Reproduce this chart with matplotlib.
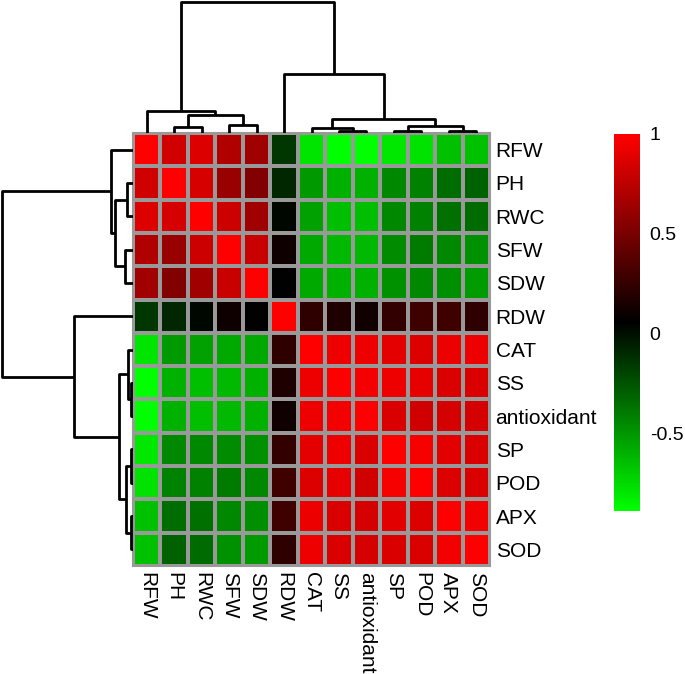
import numpy as np
import matplotlib
matplotlib.use("Agg")
import matplotlib.pyplot as plt
from matplotlib.colors import LinearSegmentedColormap

plt.rcParams['font.family'] = ['Liberation Sans', 'DejaVu Sans']

# variables in clustered order
labels = ["RFW", "PH", "RWC", "SFW", "SDW", "RDW", "CAT", "SS",
          "antioxidant", "SP", "POD", "APX", "SOD"]

# correlation matrix, same order for rows and columns
corr = [
    [1.00, 0.83, 0.87, 0.71, 0.65, -0.15, -0.79, -0.89, -0.89, -0.80, -0.78, -0.66, -0.66],
    [0.83, 1.00, 0.85, 0.62, 0.53, -0.09, -0.51, -0.60, -0.60, -0.45, -0.42, -0.35, -0.30],
    [0.87, 0.85, 1.00, 0.81, 0.65, 0.03, -0.54, -0.65, -0.65, -0.45, -0.42, -0.36, -0.34],
    [0.71, 0.62, 0.81, 1.00, 0.80, 0.11, -0.57, -0.63, -0.63, -0.46, -0.40, -0.45, -0.48],
    [0.65, 0.53, 0.65, 0.80, 1.00, 0.05, -0.57, -0.60, -0.60, -0.48, -0.45, -0.47, -0.52],
    [-0.15, -0.09, 0.03, 0.11, 0.05, 1.00, 0.23, 0.17, 0.12, 0.24, 0.29, 0.29, 0.23],
    [-0.79, -0.51, -0.54, -0.57, -0.57, 0.23, 1.00, 0.94, 0.94, 0.90, 0.87, 0.93, 0.94],
    [-0.89, -0.60, -0.65, -0.63, -0.60, 0.17, 0.94, 1.00, 0.96, 0.94, 0.91, 0.86, 0.86],
    [-0.89, -0.60, -0.65, -0.63, -0.60, 0.12, 0.94, 0.96, 1.00, 0.86, 0.83, 0.84, 0.84],
    [-0.80, -0.45, -0.45, -0.46, -0.48, 0.24, 0.90, 0.94, 0.86, 1.00, 0.97, 0.89, 0.86],
    [-0.78, -0.42, -0.42, -0.40, -0.45, 0.29, 0.87, 0.91, 0.83, 0.97, 1.00, 0.87, 0.86],
    [-0.66, -0.35, -0.36, -0.45, -0.47, 0.29, 0.93, 0.86, 0.84, 0.89, 0.87, 1.00, 0.95],
    [-0.66, -0.30, -0.34, -0.48, -0.52, 0.23, 0.94, 0.86, 0.84, 0.86, 0.86, 0.95, 1.00],
]

# hierarchical clustering merges: (child a, child b, height); leaves 0..12, merges 13..
merges = [
    (7, 8, 2.0), (9, 10, 2.0), (11, 12, 2.0), (6, 13, 5.3), (1, 2, 6.3),
    (14, 15, 7.0), (3, 4, 8.0), (16, 18, 14.0), (17, 19, 18.0), (0, 21, 22.0),
    (5, 20, 59.0), (22, 23, 130.7),
]

cbar_ticks = [-0.5, 0, 0.5, 1]

data = np.array(corr)
n = len(labels)
W, H = 685, 674
fig = plt.figure(figsize=(W / 100, H / 100), dpi=100)


def ax_px(x0, y0, x1, y1):
    return fig.add_axes([x0 / W, 1 - y1 / H, (x1 - x0) / W, (y1 - y0) / H])


hx0, hy0, hx1, hy1 = 133, 133, 490, 566
cmap = LinearSegmentedColormap.from_list("gbr", ["#00FF00", "#000000", "#FF0000"])
vmin, vmax = data.min(), data.max()

ax = ax_px(hx0, hy0, hx1, hy1)
mesh = ax.pcolormesh(np.arange(n + 1), np.arange(n + 1), data, cmap=cmap,
                     vmin=vmin, vmax=vmax, edgecolors="#999999", linewidth=1.5)
ax.set_xlim(0, n)
ax.set_ylim(n, 0)
ax.set_xticks(np.arange(n) + 0.5)
ax.set_xticklabels(labels, rotation=-90, fontsize=15)
ax.set_yticks(np.arange(n) + 0.5)
ax.set_yticklabels(labels, fontsize=15)
ax.yaxis.tick_right()
ax.tick_params(length=0, pad=4)
ax.tick_params(axis="x", pad=4)
for lab in ax.get_xticklabels():
    lab.set_va("top")
for s in ax.spines.values():
    s.set_color("#999999")
    s.set_linewidth(1.5)

# dendrogram geometry
pos = {i: float(i) for i in range(n)}
hgt = {i: 0.0 for i in range(n)}
segs = []
for k, (a, b, h) in enumerate(merges):
    node = n + k
    pos[node] = (pos[a] + pos[b]) / 2
    hgt[node] = h
    segs.append(([pos[a], pos[a], pos[b], pos[b]], [hgt[a], h, h, hgt[b]]))
top = max(m[2] for m in merges)

axc = ax_px(hx0, 0, hx1, hy0)
for xs, ys in segs:
    axc.plot(np.array(xs) + 0.5, ys, color="black", lw=2, solid_capstyle="butt")
axc.set_xlim(0, n)
axc.set_ylim(0, top * 1.018)
axc.axis("off")

axr = ax_px(0, hy0, hx0, hy1)
for xs, ys in segs:
    axr.plot(ys, np.array(xs) + 0.5, color="black", lw=2, solid_capstyle="butt")
axr.set_ylim(n, 0)
axr.set_xlim(top * 1.018, 0)
axr.axis("off")

# colour key
axk = ax_px(614, 134, 640, 511)
cb = fig.colorbar(mesh, cax=axk, ticks=cbar_ticks)
cb.outline.set_visible(False)
cb.ax.set_yticklabels(["-0.5", "0", "0.5", "1"], fontsize=14)
cb.ax.tick_params(length=0, pad=7)

fig.savefig("out.png", dpi=100)
